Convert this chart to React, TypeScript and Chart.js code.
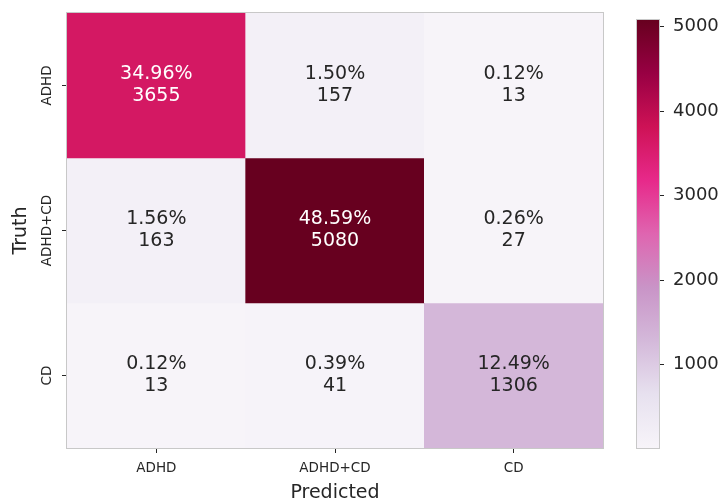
import React, { useEffect, useRef } from 'react';
import { Chart, registerables } from 'chart.js';

Chart.register(...registerables);

// Confusion matrix: rows = truth, columns = predicted
const categories = ['ADHD', 'ADHD+CD', 'CD'];
const countsADHD = [3655, 157, 13];
const countsADHDCD = [163, 5080, 27];
const countsCD = [13, 41, 1306];
const percentADHD = [34.96, 1.5, 0.12];
const percentADHDCD = [1.56, 48.59, 0.26];
const percentCD = [0.12, 0.39, 12.49];
const colorbarTicks = [1000, 2000, 3000, 4000, 5000];
const colorMin = 13;
const colorMax = 5080;

const rowCounts = [countsADHD, countsADHDCD, countsCD];
const rowPercents = [percentADHD, percentADHDCD, percentCD];

const FONT = '"DejaVu Sans", sans-serif';
const TEXT = '#262626';

// PuRd sequential palette
const PURD = [
  '#f7f4f9', '#e7e1ef', '#d4b9da', '#c994c7', '#df65b0',
  '#e7298a', '#ce1256', '#980043', '#67001f',
];

function hexToRgb(h: string): number[] {
  const n = parseInt(h.slice(1), 16);
  return [(n >> 16) & 255, (n >> 8) & 255, n & 255];
}

function colorRgb(v: number): number[] {
  let t = (v - colorMin) / (colorMax - colorMin);
  t = Math.max(0, Math.min(1, t));
  const pos = t * (PURD.length - 1);
  const i = Math.min(Math.floor(pos), PURD.length - 2);
  const f = pos - i;
  const a = hexToRgb(PURD[i]);
  const b = hexToRgb(PURD[i + 1]);
  return a.map((c, k) => Math.round(c + (b[k] - c) * f));
}

function colorFor(v: number): string {
  const [r, g, b] = colorRgb(v);
  return `rgb(${r},${g},${b})`;
}

function textColorFor(v: number): string {
  const lin = colorRgb(v).map((c) => {
    const s = c / 255;
    return s <= 0.03928 ? s / 12.92 : Math.pow((s + 0.055) / 1.055, 2.4);
  });
  const lum = 0.2126 * lin[0] + 0.7152 * lin[1] + 0.0722 * lin[2];
  return lum > 0.408 ? TEXT : '#ffffff';
}

const cellLabels = {
  id: 'cellLabels',
  afterDatasetsDraw(chart: any) {
    const ctx = chart.ctx;
    ctx.save();
    ctx.font = `19px ${FONT}`;
    ctx.textAlign = 'center';
    ctx.textBaseline = 'middle';
    chart.data.datasets.forEach((_ds: any, r: number) => {
      const meta = chart.getDatasetMeta(r);
      meta.data.forEach((el: any, c: number) => {
        const cx = el.x;
        const cy = (el.y + el.base) / 2;
        const count = rowCounts[r][c];
        ctx.fillStyle = textColorFor(count);
        ctx.fillText(`${rowPercents[r][c].toFixed(2)}%`, cx, cy - 11);
        ctx.fillText(String(count), cx, cy + 11);
      });
    });
    ctx.restore();
  },
};

const frame = {
  id: 'frame',
  afterDraw(chart: any) {
    const { left, top, right, bottom } = chart.chartArea;
    const ctx = chart.ctx;
    ctx.save();
    ctx.strokeStyle = '#c8c8c8';
    ctx.lineWidth = 1;
    ctx.strokeRect(Math.round(left) - 0.5, Math.round(top) - 0.5, Math.round(right - left) + 1, Math.round(bottom - top) + 1);
    ctx.restore();
  },
};

const yTickLabels = {
  id: 'yTickLabels',
  afterDraw(chart: any) {
    const scale = chart.scales.y;
    const ctx = chart.ctx;
    ctx.save();
    ctx.font = `13.5px ${FONT}`;
    ctx.fillStyle = TEXT;
    ctx.textAlign = 'center';
    ctx.textBaseline = 'middle';
    categories.forEach((label, i) => {
      const y = scale.getPixelForValue(i + 0.5);
      ctx.save();
      ctx.translate(scale.right - 20, y);
      ctx.rotate(-Math.PI / 2);
      ctx.fillText(label, 0, 0);
      ctx.restore();
    });
    ctx.restore();
  },
};

export default function App() {
  const mainRef = useRef<HTMLCanvasElement | null>(null);
  const barRef = useRef<HTMLCanvasElement | null>(null);

  useEffect(() => {
    document.body.style.margin = '0';
    if (!mainRef.current || !barRef.current) return;

    const tickGrid = {
      offset: false,
      drawOnChartArea: false,
      drawTicks: true,
      tickLength: 5,
      tickColor: TEXT,
      tickWidth: 1,
    };

    const main = new Chart(mainRef.current, {
      type: 'bar',
      data: {
        labels: categories,
        datasets: rowCounts.map((counts, r) => ({
          data: categories.map(() => [r, r + 1]),
          backgroundColor: counts.map(colorFor),
          borderWidth: 0,
          borderSkipped: false,
          grouped: false,
          barPercentage: 1,
          categoryPercentage: 1,
        })) as any,
      },
      options: {
        animation: false,
        responsive: false,
        maintainAspectRatio: false,
        layout: { padding: { left: 0, top: 13, right: 123, bottom: 0 } },
        plugins: { legend: { display: false }, tooltip: { enabled: false } },
        scales: {
          x: {
            type: 'category',
            offset: true,
            grid: tickGrid,
            border: { display: false },
            ticks: { color: TEXT, font: { family: FONT, size: 13.5 }, padding: 7 },
            title: {
              display: true,
              text: 'Predicted',
              color: TEXT,
              font: { family: FONT, size: 19 },
              padding: { top: 0, bottom: -2 },
            },
            afterFit: (s: any) => { s.height = 54; },
          },
          y: {
            type: 'linear',
            min: 0,
            max: 3,
            reverse: true,
            afterBuildTicks: (s: any) => {
              s.ticks = [0.5, 1.5, 2.5].map((v) => ({ value: v }));
            },
            grid: tickGrid,
            border: { display: false },
            ticks: { callback: () => '', font: { family: FONT, size: 13.5 } },
            title: {
              display: true,
              text: 'Truth',
              color: TEXT,
              font: { family: FONT, size: 19 },
              padding: { top: 10, bottom: 0 },
            },
            afterFit: (s: any) => { s.width = 67; },
          },
        },
      } as any,
      plugins: [cellLabels, frame, yTickLabels],
    });

    const colorbar = new Chart(barRef.current, {
      type: 'bar',
      data: {
        labels: [''],
        datasets: [
          {
            data: [[colorMin, colorMax]],
            backgroundColor: (c: any) => {
              const area = c.chart.chartArea;
              if (!area) return PURD[0];
              const g = c.chart.ctx.createLinearGradient(0, area.bottom, 0, area.top);
              PURD.forEach((col, i) => g.addColorStop(i / (PURD.length - 1), col));
              return g;
            },
            borderWidth: 0,
            borderSkipped: false,
            barPercentage: 1,
            categoryPercentage: 1,
          },
        ] as any,
      },
      options: {
        animation: false,
        responsive: false,
        maintainAspectRatio: false,
        layout: { padding: { left: 37, top: 13, right: 0, bottom: 54 } },
        plugins: { legend: { display: false }, tooltip: { enabled: false } },
        scales: {
          x: { display: false },
          y: {
            type: 'linear',
            position: 'right',
            min: colorMin,
            max: colorMax,
            afterBuildTicks: (s: any) => {
              s.ticks = colorbarTicks.map((v) => ({ value: v }));
            },
            grid: tickGrid,
            border: { display: false },
            ticks: {
              color: TEXT,
              font: { family: FONT, size: 18 },
              padding: 9,
              callback: (v: any) => String(v),
            },
            afterFit: (s: any) => { s.width = 67; },
          },
        },
      } as any,
      plugins: [frame],
    });

    return () => {
      main.destroy();
      colorbar.destroy();
    };
  }, []);

  return (
    <div style={{ position: 'relative', width: 726, height: 502, background: '#ffffff' }}>
      <canvas ref={mainRef} width={726} height={502} style={{ position: 'absolute', left: 0, top: 0 }} />
      <canvas ref={barRef} width={126} height={502} style={{ position: 'absolute', left: 600, top: 0 }} />
    </div>
  );
}
